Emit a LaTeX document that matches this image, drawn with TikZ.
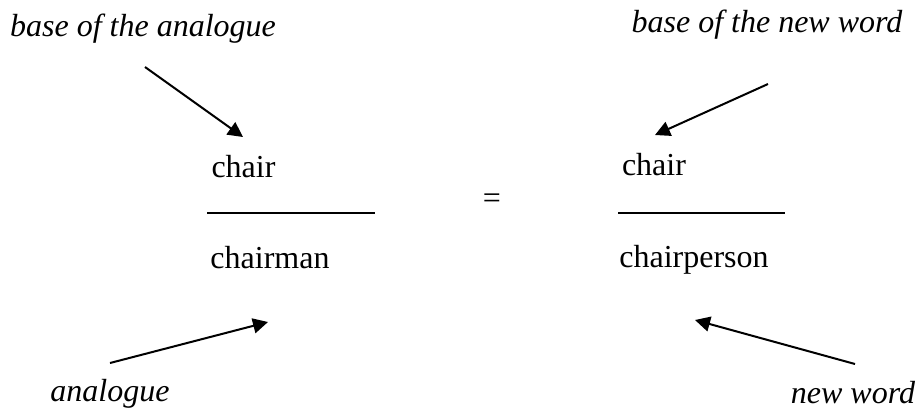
\documentclass[tikz,border=0pt]{standalone}
\usepackage{fontspec}
\setmainfont{Liberation Serif}
\usetikzlibrary{arrows.meta}
\begin{document}
\begin{tikzpicture}[x=0.5pt,y=-0.5pt,
  word/.style={inner sep=0pt,anchor=base,font=\fontsize{16}{19}\selectfont},
  label/.style={word,font=\fontsize{16}{19}\selectfont\itshape},
  bar/.style={line width=1pt},
  pointer/.style={line width=1pt,-{Triangle[length=7.5pt,width=7.5pt]}}]
\useasboundingbox (0,0) rectangle (920,409);

% labels
\node[label] (baseA) at (143,36) {base of the analogue};
\node[label] (baseN) at (767,32) {base of the new word};
\node[label] (ana) at (110,401) {analogue};
\node[label] (neww) at (853,403) {new word};

% left proportion
\node[word] (chairL) at (243.5,177) {chair};
\draw[bar] (207,213) coordinate (barLa) -- (375,213) coordinate (barLb);
\node[word] (chairman) at (270,268) {chairman};

\node[word,anchor=center] (eq) at (492,201) {=};

% right proportion
\node[word] (chairR) at (654,175) {chair};
\draw[bar] (618,212.5) coordinate (barRa) -- (785,212.5) coordinate (barRb);
\node[word] (chairperson) at (694,267) {chairperson};

% arrow ends
\coordinate (a1s) at (145,67);  \coordinate (a1e) at (243,137);
\coordinate (a2s) at (768,84);  \coordinate (a2e) at (655,135);
\coordinate (a3s) at (110,363); \coordinate (a3e) at (268,322);
\coordinate (a4s) at (855,364); \coordinate (a4e) at (695,320);

\draw[pointer] (a1s) -- (a1e);
\draw[pointer] (a2s) -- (a2e);
\draw[pointer] (a3s) -- (a3e);
\draw[pointer] (a4s) -- (a4e);
\end{tikzpicture}
\end{document}
